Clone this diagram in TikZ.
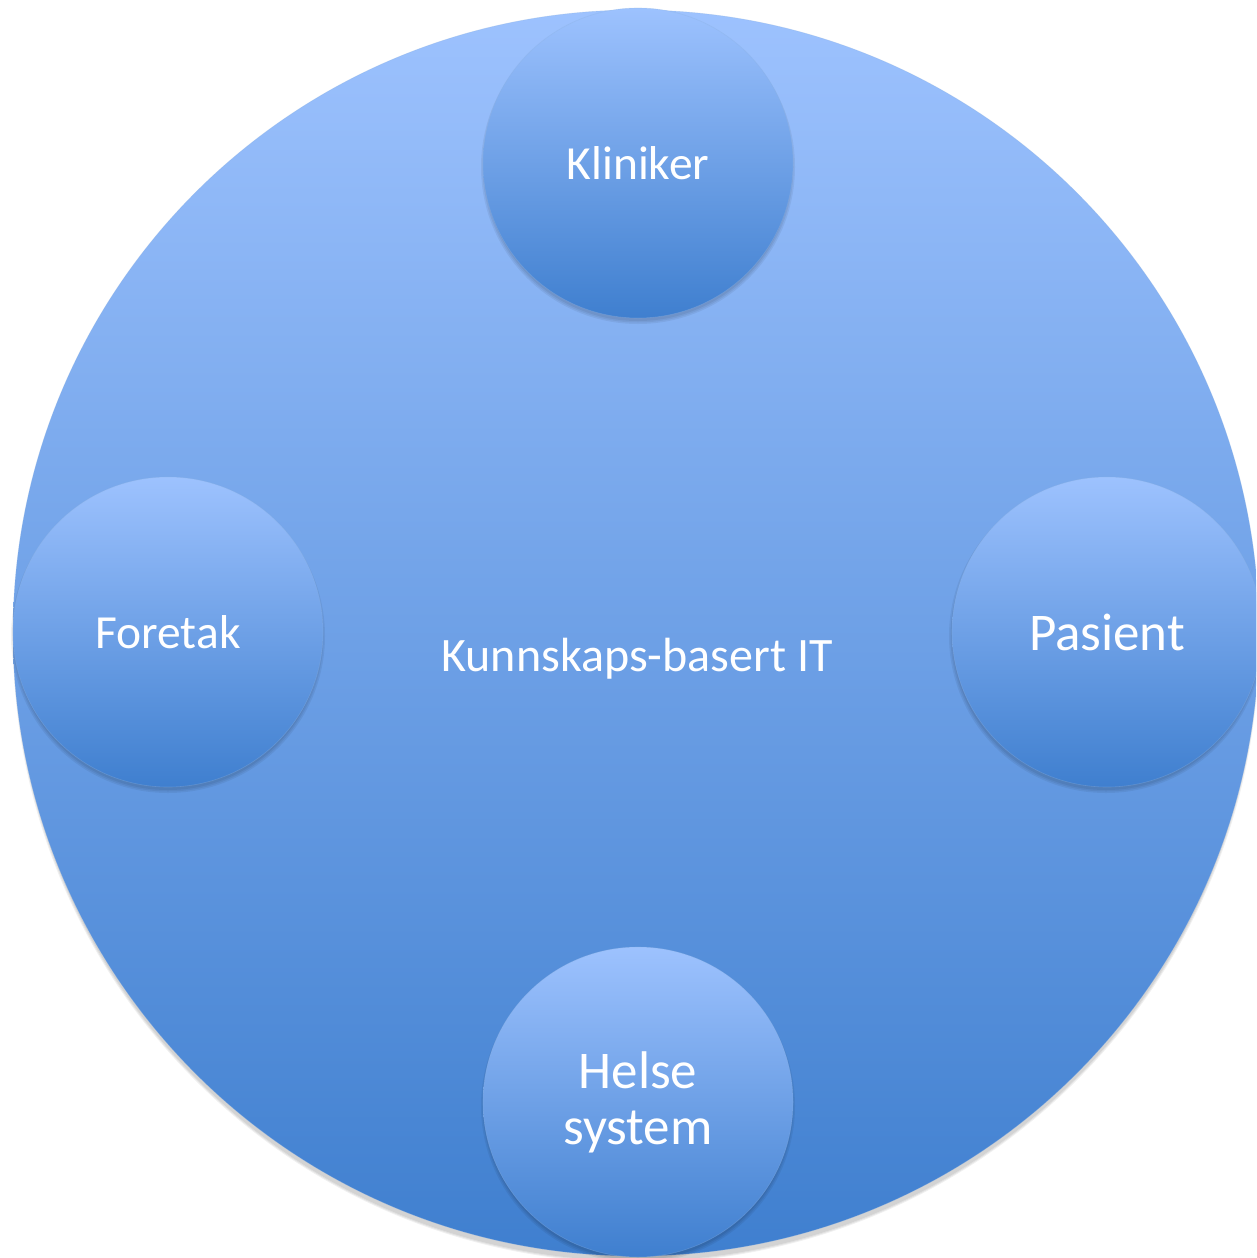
\documentclass[tikz,border=0pt]{standalone}
\usepackage{fontspec}
\setmainfont{Carlito}
\definecolor{topblue}{HTML}{9DC2FE}
\definecolor{botblue}{HTML}{3F7FCF}
\tikzset{
  ball/.style={circle, inner sep=0pt, minimum size=#1, top color=topblue, bottom color=botblue, draw=botblue!60!white, draw opacity=0.35, line width=0.6pt, text=white, align=center},
  shade1/.style={circle, inner sep=0pt, minimum size=#1, fill=black, fill opacity=0.06, draw=none},
}
\begin{document}
\begin{tikzpicture}[x=1pt,y=-1pt]
\useasboundingbox (0,0) rectangle (1256,1258);
\fill[white] (0,0) rectangle (1256,1258);
\clip (0,0) rectangle (1256,1258);
% shadow of big circle
\foreach \d in {0,2,4} {
  \node[shade1=1242+\d] (bs\d) at (636,640) {};
}
\node[ball=1246] (big) at (636,633) {};
\node[text=white, font=\fontsize{48}{56}\selectfont] (center) at (637,659) {Kunnskaps-basert IT};
% small circles shadows
\foreach \n/\x/\y in {k/638/163, f/168/632, p/1106/632, h/638/1102} {
  \foreach \d in {0,3,6} {
    \node[shade1=308+\d] (s\n\d) at (\x,\y+4) {};
  }
}
\node[ball=310, font=\fontsize{47.5}{56}\selectfont] (kliniker) at (638,163) {Kliniker};
\node[ball=310, font=\fontsize{47.5}{56}\selectfont] (foretak) at (168,632) {Foretak};
\node[ball=310, font=\fontsize{53}{60}\selectfont] (pasient) at (1107,632) {Pasient};
\node[ball=310, font=\fontsize{53}{56}\selectfont] (helse) at (638,1102) {Helse\\system};
\end{tikzpicture}
\end{document}
